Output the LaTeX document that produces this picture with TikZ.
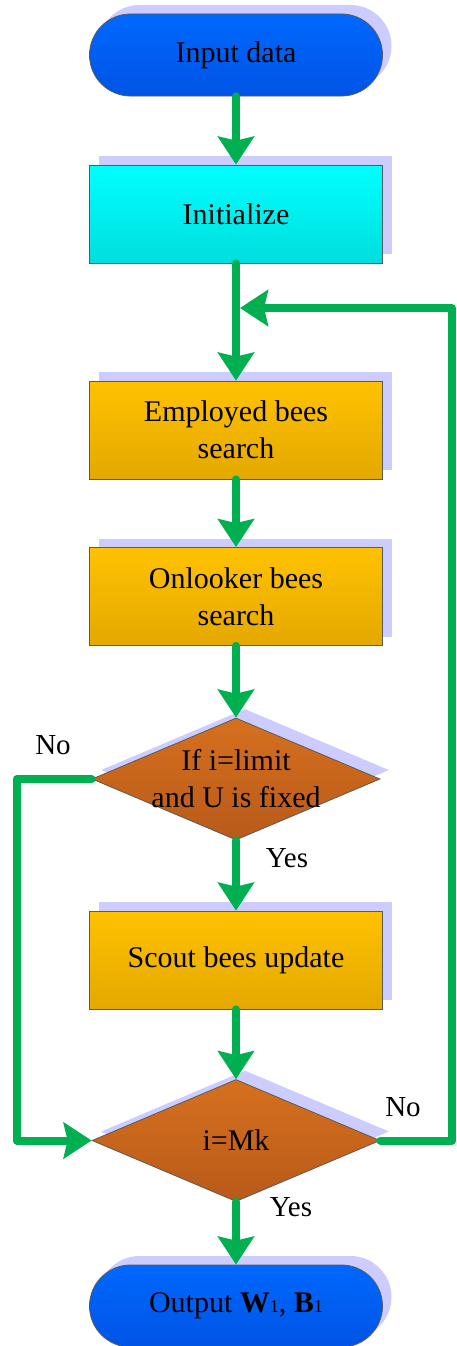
\documentclass[tikz,border=0pt]{standalone}
\usepackage{fontspec}
\setmainfont{Liberation Serif}
\usetikzlibrary{shapes.geometric,shadows,arrows.meta,shadings}
\definecolor{bluetop}{RGB}{0,104,255}
\definecolor{bluebot}{RGB}{0,84,228}
\definecolor{cyantop}{RGB}{0,255,255}
\definecolor{cyanbot}{RGB}{0,222,222}
\definecolor{orgtop}{RGB}{255,194,0}
\definecolor{orgbot}{RGB}{228,168,0}
\definecolor{dmdtop}{RGB}{214,112,30}
\definecolor{dmdbot}{RGB}{184,90,26}
\definecolor{shadecol}{RGB}{204,204,255}
\definecolor{flowgreen}{RGB}{0,176,80}
\definecolor{edgegray}{RGB}{90,90,90}
\tikzset{
  bxshadow/.style={drop shadow={shadow xshift=9pt,shadow yshift=9pt,fill=shadecol,opacity=1}},
  txt/.style={font=\fontsize{30}{37}\selectfont, align=center},
  terminal/.style={rectangle, rounded corners=41pt, minimum width=293pt, minimum height=82pt,
     draw=edgegray, line width=0.8pt, top color=bluetop, bottom color=bluebot, bxshadow, txt},
  initbox/.style={rectangle, minimum width=293pt, minimum height=98pt,
     draw=edgegray, line width=0.8pt, top color=cyantop, bottom color=cyanbot, bxshadow, txt},
  procbox/.style={rectangle, minimum width=293pt, minimum height=98pt,
     draw=edgegray, line width=0.8pt, top color=orgtop, bottom color=orgbot, bxshadow, txt},
  decbox/.style={diamond, minimum width=288pt, minimum height=122pt, inner sep=0pt,
     draw=edgegray, line width=0.8pt, top color=dmdtop, bottom color=dmdbot, bxshadow},
  flow/.style={draw=flowgreen, line width=8pt, line cap=round, line join=round,
     -{Stealth[length=28pt,width=36pt,inset=4pt]}},
  lbl/.style={font=\fontsize{29}{34}\selectfont},
}
\begin{document}
\begin{tikzpicture}[x=1pt,y=-1pt]
\useasboundingbox (0,0) rectangle (457,1346);
\node[terminal] (in) at (236,55) {Input data};
\node[initbox] (init) at (236,214) {Initialize};
\node[procbox] (emp) at (236,430) {Employed bees\\search};
\node[procbox] (onl) at (236,596.5) {Onlooker bees\\search};
\node[decbox] (d1) at (236,779) {};
\node[txt] (d1t) at (d1.center) {If i=limit\\and U is fixed};
\node[procbox] (sct) at (236,960) {Scout bees update};
\node[decbox] (d2) at (236,1140.5) {};
\node[txt] (d2t) at (d2.center) {i=Mk};
\node[terminal] (out) at (236,1306) {Output \textbf{W}{\fontsize{18}{18}\selectfont 1}, \textbf{B}{\fontsize{18}{18}\selectfont 1}};

\coordinate (lt) at (16.5,779);
\coordinate (lb) at (16.5,1140.5);
\coordinate (rb) at (452,1140.5);
\coordinate (rt) at (452,308);
\coordinate (jn) at (240,308);

\draw[flow] (in.south) -- (init.north);
\draw[flow] (init.south) -- (emp.north);
\draw[flow] (emp.south) -- (onl.north);
\draw[flow] (onl.south) -- (d1.north);
\draw[flow] (d1.south) -- (sct.north);
\draw[flow] (sct.south) -- (d2.north);
\draw[flow] (d2.south) -- (out.north);
\draw[flow] (d1.west) -- (lt) -- (lb) -- (d2.west);
\draw[flow] (d2.east) -- (rb) -- (rt) -- (jn);

\node[lbl] (no1) at (53,745) {No};
\node[lbl] (yes1) at (287,858) {Yes};
\node[lbl] (no2) at (403,1107) {No};
\node[lbl] (yes2) at (291,1207) {Yes};
\end{tikzpicture}
\end{document}
